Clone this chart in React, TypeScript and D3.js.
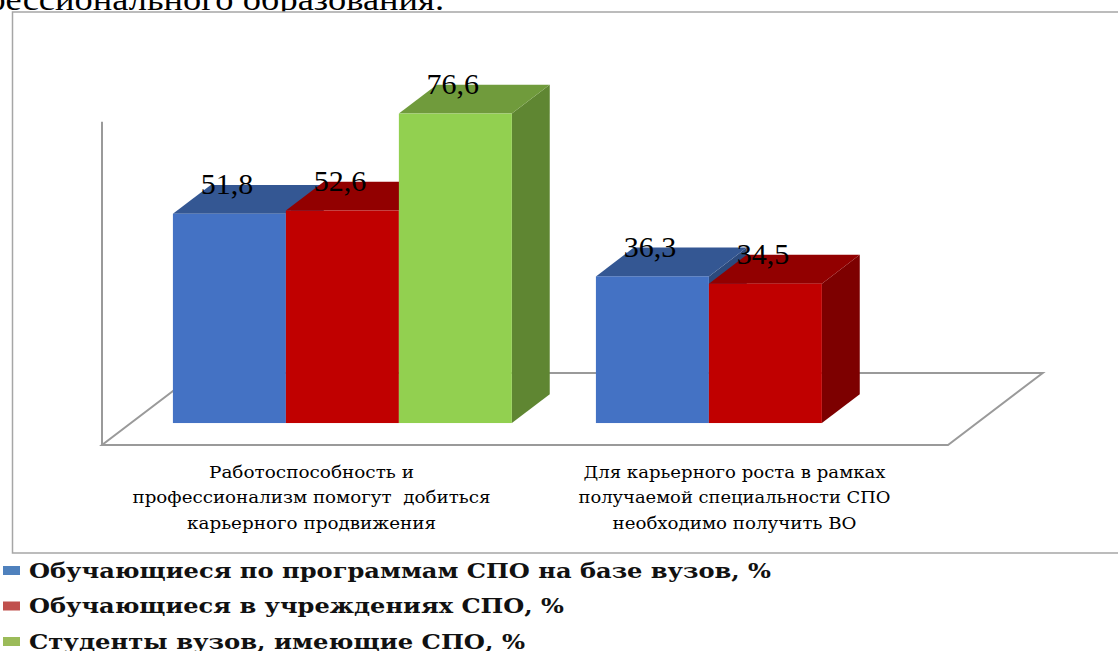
import React from "react";
import * as d3 from "d3";

// ---- data ----
const categories = ["cat1", "cat2"];
const categoryLines: string[][] = [
  ["Работоспособность и", "профессионализм помогут  добиться", "карьерного продвижения"],
  ["Для карьерного роста в рамках", "получаемой специальности СПО", "необходимо получить ВО"],
];
const seriesNames = [
  "Обучающиеся по программам СПО на базе вузов, %",
  "Обучающиеся в учреждениях СПО, %",
  "Студенты вузов, имеющие СПО, %",
];
const valuesSpoVuz = [51.8, 36.3];
const valuesSpoInst = [52.6, 34.5];
const valuesStudents: (number | null)[] = [76.6, null];
const yDomainMax = 80;
const titleTail = "профессионального образования.";

// ---- styles ----
const frontColors = ["#4472C4", "#C00000", "#92D050"];
const topColors = ["#345793", "#920000", "#709B3C"];
const sideColors = ["#2C4A7D", "#7D0000", "#5F8632"];
const legendColors = ["#4F81BD", "#C0504D", "#9BBB59"];
const labelWidths = [
  [205, 358, 249],
  [302, 312, 244],
];
const legendWidths = [742, 535, 496];

const W = 1118;
const H = 651;

export default function App() {
  const seriesValues = [valuesSpoVuz, valuesSpoInst, valuesStudents];
  const fmtLocale = d3.formatLocale({ decimal: ",", thousands: " ", grouping: [3], currency: ["", ""] });
  const fmt = fmtLocale.format(".1f");

  // floor geometry (front plane)
  const floorFront: [number, number] = [102, 948];
  const floorY = 445;
  const depth = { dx: 94.7, dy: -72 };
  const barFrontFrac = 0.305;
  const barDepthFrac = 0.4;
  const bfx = depth.dx * barFrontFrac;
  const bfy = depth.dy * barFrontFrac;
  const bdx = depth.dx * barDepthFrac;
  const bdy = depth.dy * barDepthFrac;
  const barBase = floorY + bfy;

  const xFront = d3.scaleBand<string>().domain(categories).range(floorFront);
  const xBar = d3
    .scaleBand<string>()
    .domain(categories)
    .range([floorFront[0] + bfx, floorFront[1] + bfx]);
  const xSeries = d3
    .scaleBand<number>()
    .domain(d3.range(seriesNames.length))
    .range([0, xBar.bandwidth()])
    .paddingInner(0)
    .paddingOuter(0.372);
  const pxPerUnit = 4.04;
  const y = d3.scaleLinear().domain([0, yDomainMax]).range([barBase, barBase - pxPerUnit * yDomainMax]);
  const axisTop = floorY - pxPerUnit * yDomainMax;

  const floorPts = [
    [floorFront[0], floorY],
    [floorFront[1], floorY],
    [floorFront[1] + depth.dx, floorY + depth.dy],
    [floorFront[0] + depth.dx, floorY + depth.dy],
  ];

  const bars: JSX.Element[] = [];
  const labels: JSX.Element[] = [];
  categories.forEach((c, ci) => {
    seriesValues.forEach((vals, si) => {
      const v = vals[ci];
      if (v == null) return;
      const x0 = (xBar(c) as number) + (xSeries(si) as number);
      const w = xSeries.bandwidth();
      const x1 = x0 + w;
      const yt = y(v);
      const yb = y(0);
      const side = `M${x1},${yt} L${x1 + bdx},${yt + bdy} L${x1 + bdx},${yb + bdy} L${x1},${yb} Z`;
      const top = `M${x0},${yt} L${x1},${yt} L${x1 + bdx},${yt + bdy} L${x0 + bdx},${yt + bdy} Z`;
      bars.push(
        <g key={`b${ci}-${si}`}>
          <path d={side} fill={sideColors[si]} />
          <path d={top} fill={topColors[si]} />
          <rect x={x0} y={yt} width={w} height={yb - yt} fill={frontColors[si]} />
        </g>
      );
      labels.push(
        <text
          key={`l${ci}-${si}`}
          x={x0 + w / 2 - 2.5}
          y={yt - 19.5}
          textAnchor="middle"
          fontFamily="'Liberation Serif', serif"
          fontSize={30}
          fill="#000"
        >
          {fmt(v)}
        </text>
      );
    });
  });

  return (
    <svg
      width={W}
      height={H}
      viewBox={`0 0 ${W} ${H}`}
      style={{ position: "absolute", left: 0, top: 0, background: "#fff" }}
    >
      <rect x={0} y={0} width={W} height={H} fill="#fff" />
      {/* title tail (cut off) */}
      <text
        x={444}
        y={9.5}
        textAnchor="end"
        fontFamily="'Liberation Serif', serif"
        fontSize={32}
        textLength={518}
        lengthAdjust="spacingAndGlyphs"
        fill="#000"
      >
        {titleTail}
      </text>
      {/* chart frame */}
      <rect x={12.5} y={12} width={W + 20} height={541} fill="#fff" stroke="#A6A6A6" strokeWidth={1.5} />
      {/* floor */}
      <polygon points={floorPts.map((p) => p.join(",")).join(" ")} fill="#fff" stroke="#9A9A9A" strokeWidth={2} />
      <line x1={floorFront[0]} x2={floorFront[0]} y1={axisTop} y2={floorY} stroke="#9A9A9A" strokeWidth={2} />
      {bars}
      {labels}
      {/* category labels */}
      {categories.map((c, ci) => {
        const cx = (xFront(c) as number) + xFront.bandwidth() / 2 - 2;
        return (
          <g key={`c${ci}`}>
            {categoryLines[ci].map((line, li) => (
              <text
                key={li}
                x={cx}
                y={478 + li * 25.3}
                textAnchor="middle"
                fontFamily="'DejaVu Serif', serif"
                fontSize={16.5}
                textLength={labelWidths[ci][li]}
                lengthAdjust="spacingAndGlyphs"
                fill="#000"
                style={{ whiteSpace: "pre" }}
              >
                {line}
              </text>
            ))}
          </g>
        );
      })}
      {/* legend */}
      {seriesNames.map((name, i) => (
        <g key={`lg${i}`}>
          <rect x={3} y={566 + i * 35.5} width={17} height={9} fill={legendColors[i]} />
          <text
            x={29}
            y={577.5 + i * 35.5}
            fontFamily="'DejaVu Serif', serif"
            fontWeight="bold"
            fontSize={21}
            textLength={legendWidths[i]}
            lengthAdjust="spacingAndGlyphs"
            fill="#111"
          >
            {name}
          </text>
        </g>
      ))}
    </svg>
  );
}
